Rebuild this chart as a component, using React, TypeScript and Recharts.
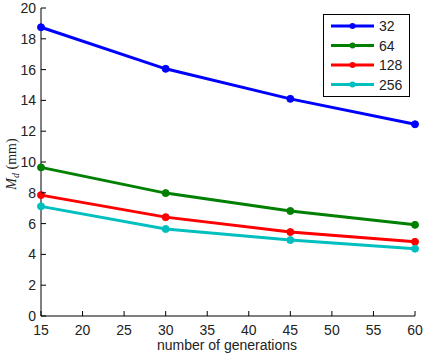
import React from 'react';
import { LineChart, Line, XAxis, YAxis } from 'recharts';

const generations = [15, 30, 45, 60];
const s32 = [18.75, 16.05, 14.1, 12.45];
const s64 = [9.65, 7.98, 6.82, 5.92];
const s128 = [7.85, 6.42, 5.45, 4.82];
const s256 = [7.12, 5.65, 4.93, 4.37];
const xTicks = [15, 20, 25, 30, 35, 40, 45, 50, 55, 60];
const yTicks = [0, 2, 4, 6, 8, 10, 12, 14, 16, 18, 20];

const seriesNames = ['32', '64', '128', '256'];
const seriesColors = ['#0000FF', '#008000', '#FF0000', '#00BFBF'];
const seriesKeys = ['s32', 's64', 's128', 's256'];

const data = generations.map((g, i) => ({
  g,
  s32: s32[i],
  s64: s64[i],
  s128: s128[i],
  s256: s256[i],
}));

const FONT = '"Liberation Sans", Arial, sans-serif';
const TXT = '#222';

const BottomTick = (props: any) => {
  const { x, y, payload } = props;
  return (
    <g>
      <line x1={x} y1={y} x2={x} y2={y - 5} stroke="#000" strokeWidth={1} />
      <text x={x} y={y + 19} textAnchor="middle" fontSize={14} fontFamily={FONT} fill={TXT}>
        {payload.value}
      </text>
    </g>
  );
};

const TopTick = (props: any) => {
  const { x, y } = props;
  return <line x1={x} y1={y} x2={x} y2={y + 5} stroke="#000" strokeWidth={1} />;
};

const LeftTick = (props: any) => {
  const { x, y, payload } = props;
  return (
    <g>
      <line x1={x} y1={y} x2={x + 5} y2={y} stroke="#000" strokeWidth={1} />
      <text x={x - 5} y={y + 5} textAnchor="end" fontSize={14} fontFamily={FONT} fill={TXT}>
        {payload.value}
      </text>
    </g>
  );
};

const RightTick = (props: any) => {
  const { x, y } = props;
  return <line x1={x} y1={y} x2={x - 5} y2={y} stroke="#000" strokeWidth={1} />;
};

const LegendBox = () => (
  <svg width={88} height={84} style={{ display: 'block' }}>
    <rect x={0.5} y={0.5} width={86} height={82} fill="#fff" stroke="#000" strokeWidth={1} />
    {seriesNames.map((n, i) => {
      const cy = 12 + i * 19.5;
      return (
        <g key={n}>
          <line x1={8} y1={cy} x2={51} y2={cy} stroke={seriesColors[i]} strokeWidth={3} />
          <circle cx={29.5} cy={cy} r={3} fill={seriesColors[i]} />
          <text x={56} y={cy + 5} fontSize={14} fontFamily={FONT} fill={TXT}>
            {n}
          </text>
        </g>
      );
    })}
  </svg>
);

const YLabel = () => (
  <text
    x={16}
    y={164}
    transform="rotate(-90 16 164)"
    textAnchor="middle"
    fontSize={14}
    fontFamily='"Liberation Serif", "Times New Roman", serif'
    fill={TXT}
  >
    <tspan fontStyle="italic">M</tspan>
    <tspan fontStyle="italic" fontSize={10} dy={3}>d</tspan>
    <tspan dy={-3}> (mm)</tspan>
  </text>
);

const XLabel = () => (
  <text x={227} y={350} textAnchor="middle" fontSize={14} fontFamily={FONT} fill={TXT}>
    number of generations
  </text>
);

export default function App() {
  return (
    <div style={{ position: 'absolute', left: 0, top: 0, width: 425, height: 358, background: '#fff' }}>
      <LineChart
        width={425}
        height={358}
        data={data}
        margin={{ top: 8, right: 10, bottom: 12, left: 11 }}
      >
        <XAxis
          xAxisId="b"
          dataKey="g"
          type="number"
          domain={[15, 60]}
          ticks={xTicks}
          interval={0}
          tickSize={0}
          tickMargin={0}
          tickLine={false}
          tick={<BottomTick />}
          height={30}
          axisLine={{ stroke: '#000', strokeWidth: 1 }}
          label={{ content: () => <XLabel /> }}
        />
        <XAxis
          xAxisId="t"
          orientation="top"
          dataKey="g"
          type="number"
          domain={[15, 60]}
          ticks={xTicks}
          interval={0}
          tickSize={0}
          tickMargin={0}
          tickLine={false}
          tick={<TopTick />}
          height={0}
          axisLine={{ stroke: '#000', strokeWidth: 1 }}
        />
        <YAxis
          yAxisId="l"
          type="number"
          domain={[0, 20]}
          ticks={yTicks}
          interval={0}
          tickSize={0}
          tickMargin={0}
          tickLine={false}
          tick={<LeftTick />}
          width={30}
          axisLine={{ stroke: '#000', strokeWidth: 1 }}
          label={{ content: () => <YLabel /> }}
        />
        <YAxis
          yAxisId="r"
          orientation="right"
          type="number"
          domain={[0, 20]}
          ticks={yTicks}
          interval={0}
          tickSize={0}
          tickMargin={0}
          tickLine={false}
          tick={<RightTick />}
          width={0}
          axisLine={{ stroke: '#000', strokeWidth: 1 }}
        />
        {seriesKeys.map((k, i) => (
          <Line
            key={k}
            xAxisId="b"
            yAxisId="l"
            dataKey={k}
            name={seriesNames[i]}
            stroke={seriesColors[i]}
            strokeWidth={3}
            dot={{ r: 3.5, fill: seriesColors[i], stroke: seriesColors[i], strokeWidth: 1 }}
            isAnimationActive={false}
          />
        ))}
      </LineChart>
      <div style={{ position: 'absolute', left: 323, top: 14 }}>
        <LegendBox />
      </div>
    </div>
  );
}
